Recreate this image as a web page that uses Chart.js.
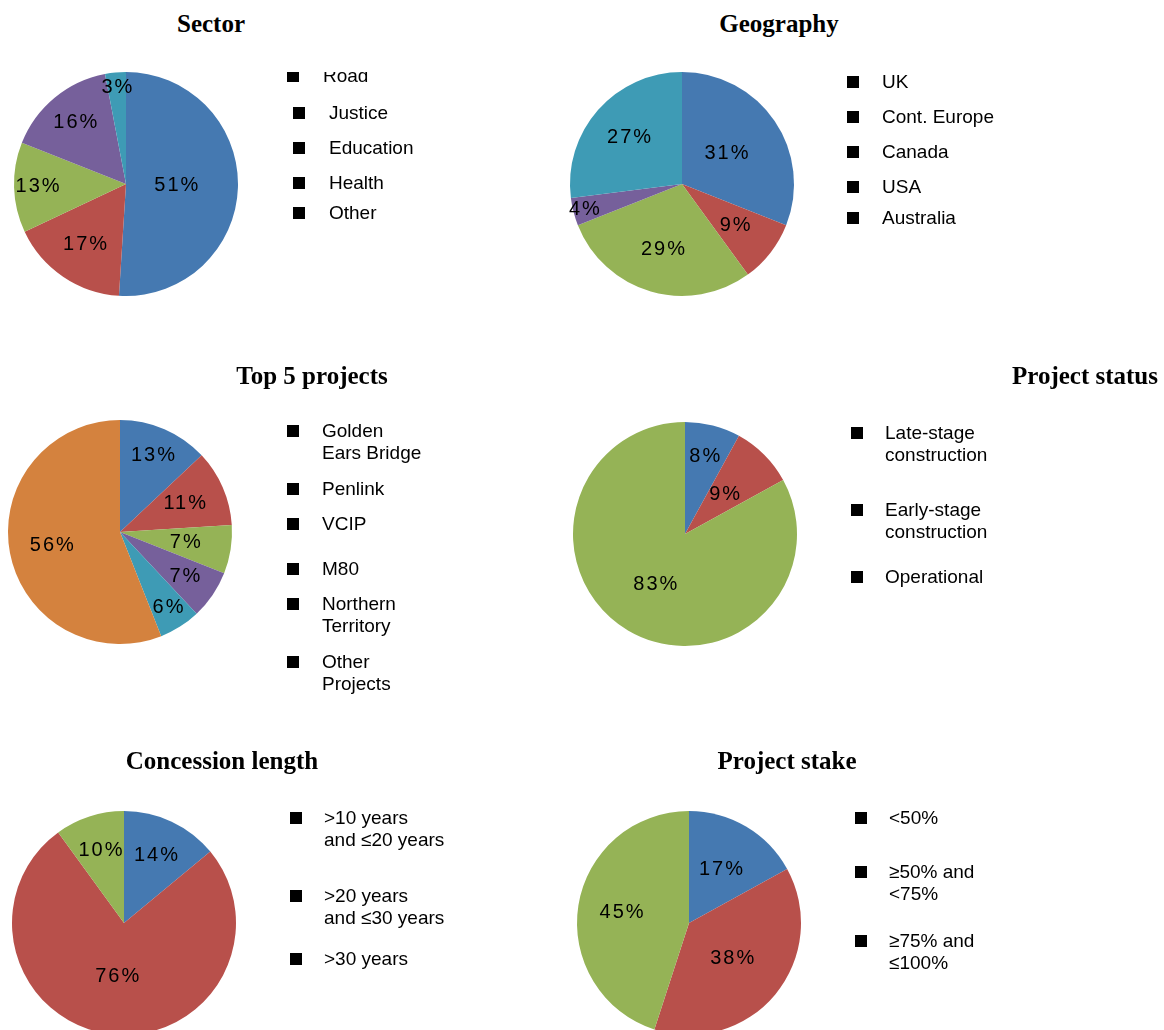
<!DOCTYPE html>
<html>
<head>
<meta charset="utf-8">
<title>Portfolio breakdown</title>
<script src="https://cdn.jsdelivr.net/npm/chart.js@4.4.0/dist/chart.umd.min.js"></script>
<style>
  body {
    margin: 0;
    width: 1164px;
    height: 1030px;
    overflow: hidden;
    position: relative;
    background: #fff;
    font-family: "Liberation Sans", Arial, sans-serif;
    color: #000;
  }
  .title {
    position: absolute;
    font: bold 25px/25px "Liberation Serif", "Times New Roman", serif;
    white-space: nowrap;
    transform: translateX(-50%);
  }
  .pie {
    position: absolute;
  }
  .legend {
    position: absolute;
    left: 0;
    right: 0;
    bottom: 0;
    overflow: hidden;
  }
  .item {
    position: absolute;
    font-size: 19px;
    line-height: 22.5px;
    white-space: nowrap;
  }
  .item .box {
    position: absolute;
    width: 12px;
    height: 12px;
    top: 5.5px;
    background: #000;
  }
</style>
</head>
<body>
<script>
const palette = ['#4579b1', '#b8504b', '#95b356', '#76609b', '#3e9bb5', '#d4823e'];

// Sector
const sectorLabels = ['Road', 'Justice', 'Education', 'Health', 'Other'];
const sectorValues = [51, 17, 13, 16, 3];

// Geography
const geoLabels = ['UK', 'Cont. Europe', 'Canada', 'USA', 'Australia'];
const geoValues = [31, 9, 29, 4, 27];

// Top 5 projects
const projectLabels = [['Golden', 'Ears Bridge'], 'Penlink', 'VCIP', 'M80', ['Northern', 'Territory'], ['Other', 'Projects']];
const projectValues = [13, 11, 7, 7, 6, 56];

// Project status
const statusLabels = [['Late-stage', 'construction'], ['Early-stage', 'construction'], 'Operational'];
const statusValues = [8, 9, 83];

// Concession length
const concessionLabels = [['>10 years', 'and \u226420 years'], ['>20 years', 'and \u226430 years'], '>30 years'];
const concessionValues = [14, 76, 10];

// Project stake
const stakeLabels = ['<50%', ['\u226550% and', '<75%'], ['\u226575% and', '\u2264100%']];
const stakeValues = [17, 38, 45];

// where each panel sits on the page
const panels = [
  { title: 'Sector', titleX: 211, titleTop: 11, cx: 126, cy: 184,
    labels: sectorLabels, values: sectorValues, colors: palette.slice(0, 5),
    labelR: [0.45, 0.65, 0.79, 0.71, 0.87],
    boxX: 293, textX: 329, itemY: [76, 113, 148, 183, 213], shiftX: [-6, 0, 0, 0, 0], clipTop: 72 },
  { title: 'Geography', titleX: 779, titleTop: 11, cx: 682, cy: 184,
    labels: geoLabels, values: geoValues, colors: palette.slice(0, 5),
    labelR: [0.48, 0.6, 0.61, 0.9, 0.63],
    boxX: 847, textX: 882, itemY: [82, 117, 152, 187, 218] },
  { title: 'Top 5 projects', titleX: 312, titleTop: 363, cx: 119.5, cy: 531.5,
    labels: projectLabels, values: projectValues, colors: palette.slice(0, 6),
    labelR: [0.74, 0.63, 0.59, 0.7, 0.8, 0.62],
    boxX: 287, textX: 322, itemY: [431, 489, 524, 569, 604, 662] },
  { title: 'Project status', titleX: 1085, titleTop: 363, cx: 684.5, cy: 533.5,
    labels: statusLabels, values: statusValues, colors: palette.slice(0, 3),
    labelR: [0.71, 0.5, 0.52],
    boxX: 851, textX: 885, itemY: [433, 510, 577] },
  { title: 'Concession length', titleX: 222, titleTop: 748, cx: 123.5, cy: 923,
    labels: concessionLabels, values: concessionValues, colors: palette.slice(0, 3),
    labelR: [0.67, 0.48, 0.68],
    boxX: 290, textX: 324, itemY: [818, 896, 959] },
  { title: 'Project stake', titleX: 787, titleTop: 748, cx: 688.5, cy: 923,
    labels: stakeLabels, values: stakeValues, colors: palette.slice(0, 3),
    labelR: [0.56, 0.5, 0.61],
    boxX: 855, textX: 889, itemY: [818, 872, 941] }
];

const RADIUS = 112;
const PAD = 18;

// percentage text inside each slice, placed along the slice's middle angle
const sliceLabels = {
  id: 'sliceLabels',
  afterDatasetsDraw(chart, args, opts) {
    const ctx = chart.ctx;
    const meta = chart.getDatasetMeta(0);
    const values = chart.data.datasets[0].data;
    ctx.save();
    ctx.font = '20px "Liberation Sans", Arial, sans-serif';
    ctx.letterSpacing = '2px';
    ctx.fillStyle = '#000';
    ctx.textAlign = 'center';
    ctx.textBaseline = 'middle';
    meta.data.forEach((arc, i) => {
      const p = arc.getProps(['x', 'y', 'startAngle', 'endAngle', 'outerRadius'], true);
      const mid = (p.startAngle + p.endAngle) / 2;
      const r = p.outerRadius * opts.radii[i];
      ctx.fillText(values[i] + '%', p.x + Math.cos(mid) * r + 1, p.y + Math.sin(mid) * r);
    });
    ctx.restore();
  }
};

function addTitle(panel) {
  const t = document.createElement('div');
  t.className = 'title';
  t.textContent = panel.title;
  t.style.left = panel.titleX + 'px';
  t.style.top = panel.titleTop + 'px';
  document.body.appendChild(t);
}

function addLegend(panel) {
  const wrap = document.createElement('div');
  wrap.className = 'legend';
  wrap.style.top = (panel.clipTop || 0) + 'px';
  const offset = panel.clipTop || 0;
  panel.labels.forEach((label, i) => {
    const item = document.createElement('div');
    item.className = 'item';
    const shift = panel.shiftX ? panel.shiftX[i] : 0;
    item.style.left = (panel.boxX + shift) + 'px';
    item.style.top = (panel.itemY[i] - 11.5 - offset) + 'px';
    const box = document.createElement('span');
    box.className = 'box';
    box.style.left = '0px';
    item.appendChild(box);
    const text = document.createElement('div');
    text.style.marginLeft = (panel.textX - panel.boxX) + 'px';
    (Array.isArray(label) ? label : [label]).forEach(line => {
      const l = document.createElement('div');
      l.textContent = line;
      text.appendChild(l);
    });
    item.appendChild(text);
    wrap.appendChild(item);
  });
  document.body.appendChild(wrap);
}

function addPie(panel) {
  const size = RADIUS * 2 + PAD * 2;
  const canvas = document.createElement('canvas');
  canvas.className = 'pie';
  canvas.width = size;
  canvas.height = size;
  canvas.style.left = (panel.cx - RADIUS - PAD) + 'px';
  canvas.style.top = (panel.cy - RADIUS - PAD) + 'px';
  document.body.appendChild(canvas);

  new Chart(canvas.getContext('2d'), {
    type: 'pie',
    data: {
      labels: panel.labels.map(l => Array.isArray(l) ? l.join(' ') : l),
      datasets: [{
        data: panel.values,
        backgroundColor: panel.colors,
        borderWidth: 0
      }]
    },
    options: {
      responsive: false,
      animation: false,
      layout: { padding: PAD },
      plugins: {
        legend: { display: false },
        tooltip: { enabled: false },
        sliceLabels: { radii: panel.labelR }
      }
    },
    plugins: [sliceLabels]
  });
}

panels.forEach(panel => {
  addPie(panel);
  addTitle(panel);
  addLegend(panel);
});
</script>
</body>
</html>
